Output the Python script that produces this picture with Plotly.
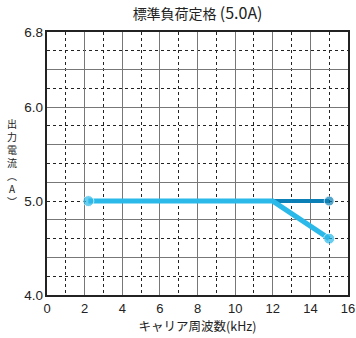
import plotly.graph_objects as go

# carrier frequency (kHz) vs output current (A)
freq_flat = [12, 15]
current_flat = [5.0, 5.0]
freq_derate = [2.2, 12, 15]
current_derate = [5.0, 5.0, 4.6]

x_ticks = [0, 2, 4, 6, 8, 10, 12, 14, 16]
x_minor = [1, 3, 5, 7, 9, 11, 13, 15]
y_label_vals = [4.0, 5.0, 6.0, 6.8]
y_label_text = ["4.0", "5.0", "6.0", "6.8"]
y_major_grid = [4.0, 4.4, 4.8, 5.2, 5.6, 6.0, 6.4, 6.8]
y_minor_grid = [4.2, 4.6, 5.0, 5.4, 5.8, 6.2, 6.6]
y_title_chars = ["出", "力", "電", "流", "︵", "A", "︶"]

FONT = "Liberation Sans, Noto Sans CJK JP, sans-serif"
JP_FONT = "Noto Sans CJK JP, sans-serif"
DASH = "3px,3px"

fig = go.Figure()
fig.add_trace(go.Scatter(
    x=freq_flat, y=current_flat, mode="lines+markers",
    line=dict(color="#0b7fb6", width=4),
    marker=dict(size=[0, 10], color="#0b7fb6"),
    showlegend=False, yaxis="y",
))
fig.add_trace(go.Scatter(
    x=freq_derate, y=current_derate, mode="lines+markers",
    line=dict(color="#2bb9e9", width=5),
    marker=dict(size=[11, 0, 11], color="#2bb9e9"),
    showlegend=False, yaxis="y2",
))

fig.update_layout(
    width=356, height=338,
    margin=dict(l=47, r=8, t=32, b=43),
    plot_bgcolor="white", paper_bgcolor="white",
    font=dict(family=FONT, size=13, color="#222"),
    title=dict(text="標準負荷定格 <span style='font-size:16px'>(5.0A)</span>",
               x=0.555, xanchor="center", y=0.958, yanchor="middle",
               font=dict(family=JP_FONT, size=14, color="#222")),
    xaxis=dict(
        range=[0, 16], tickvals=x_ticks, showgrid=True,
        gridcolor="#777777", gridwidth=1.2,
        minor=dict(tickmode="array", tickvals=x_minor,
                   showgrid=True, griddash=DASH, gridcolor="#222", gridwidth=1),
        showline=True, linecolor="#222", linewidth=2, mirror=True,
        ticks="", zeroline=False, automargin=False,
        title=dict(text="キャリア周波数(kHz)", standoff=2,
                   font=dict(family=JP_FONT, size=12.5)),
    ),
    yaxis=dict(
        range=[4.0, 6.8], tickvals=y_major_grid, showticklabels=False,
        showgrid=True, gridcolor="#777777", gridwidth=1.2,
        minor=dict(tickmode="array", tickvals=y_minor_grid,
                   showgrid=True, griddash=DASH, gridcolor="#222", gridwidth=1),
        showline=True, linecolor="#222", linewidth=2, mirror=True,
        ticks="", zeroline=False, automargin=False,
    ),
    yaxis2=dict(
        range=[4.0, 6.8], overlaying="y", side="left",
        tickvals=y_label_vals, ticktext=y_label_text,
        showgrid=False, zeroline=False, ticks="", ticklabelstandoff=3,
        automargin=False, tickfont=dict(size=13.5),
    ),
)

# vertical y-axis title, stacked one character per line
fig.add_annotation(
    text="<br>".join(y_title_chars), xref="paper", yref="paper",
    x=-0.116, y=0.502, xanchor="center", yanchor="middle", showarrow=False,
    font=dict(family=JP_FONT, size=10, color="#222"),
)

# drop the default body margin so the 356x338 figure fills the window exactly
fig.write_html("out.html",
               config={"displayModeBar": False},
               post_script="document.body.style.margin='0';"
                           "document.body.style.overflow='hidden';")
